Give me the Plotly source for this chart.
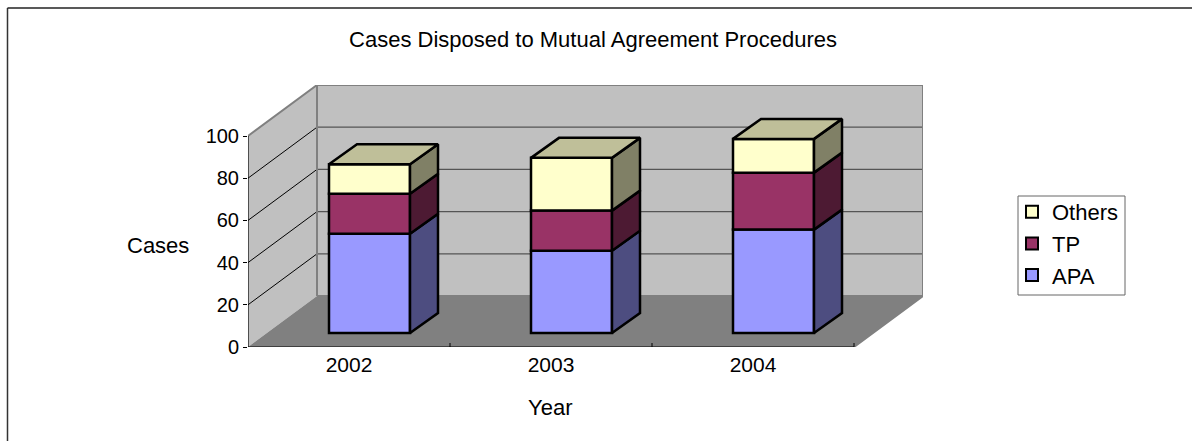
import plotly.graph_objects as go

# ---- data
years = ["2002", "2003", "2004"]
apa = [47, 39, 49]
tp = [19, 19, 27]
others = [14, 25, 16]
series = [("APA", apa, "#9999FF", "#4D4D80"),
          ("TP", tp, "#993366", "#4D1A33"),
          ("Others", others, "#FFFFCC", "#808066")]
top_colour = "#BFBF99"
y_ticks = [0, 20, 40, 60, 80, 100]

# ---- geometry of the fake 3-D box, in axis units
W, H = 1192, 441
PX_PER_CAT = 202.0
PX_PER_VAL = 2.11
X0, Y0 = 248.0, 347.0            # front-left floor corner, pixels
DX_WALL = 69 / PX_PER_CAT        # depth of box
DY_WALL = 51 / PX_PER_VAL
BAR_W = 81 / PX_PER_CAT
DX_FRONT = 20.5 / PX_PER_CAT     # bar front set back from box front
DY_FRONT = 14 / PX_PER_VAL
DX_BAR = 28 / PX_PER_CAT         # bar depth
DY_BAR = 20 / PX_PER_VAL
xmin, xmax = -0.5, 2.5 + DX_WALL
ymin, ymax = 0, 100 + DY_WALL

fig = go.Figure()


def poly(xs, ys, fill, line="rgba(0,0,0,0)", width=0, over=False):
    fig.add_trace(go.Scatter(x=xs + xs[:1], y=ys + ys[:1], mode="lines", fill="toself", fillcolor=fill,
                             line=dict(color=line, width=width), showlegend=False,
                             hoverinfo="skip", xaxis="x2" if over else "x",
                             yaxis="y2" if over else "y"))


def seg(xs, ys, color, width):
    fig.add_trace(go.Scatter(x=xs, y=ys, mode="lines", line=dict(color=color, width=width),
                             showlegend=False, hoverinfo="skip"))


# side wall, back wall, floor
poly([-0.5, -0.5 + DX_WALL, -0.5 + DX_WALL, -0.5], [0, DY_WALL, 100 + DY_WALL, 100], "#C0C0C0")
poly([-0.5 + DX_WALL, 2.5 + DX_WALL, 2.5 + DX_WALL, -0.5 + DX_WALL],
     [DY_WALL, DY_WALL, 100 + DY_WALL, 100 + DY_WALL], "#C0C0C0")
poly([-0.5, 2.5, 2.5 + DX_WALL, -0.5 + DX_WALL], [0, 0, DY_WALL, DY_WALL], "#808080")
# gridlines
for t in y_ticks[1:-1]:
    seg([-0.5, -0.5 + DX_WALL], [t, t + DY_WALL], "#000000", 1)
    seg([-0.5 + DX_WALL, 2.5 + DX_WALL], [t + DY_WALL, t + DY_WALL], "#555555", 1.2)
# wall borders
seg([-0.5, -0.5 + DX_WALL, 2.5 + DX_WALL, 2.5 + DX_WALL, 2.5],
    [100, 100 + DY_WALL, 100 + DY_WALL, DY_WALL, 0], "#808080", 2)
seg([-0.5 + DX_WALL, -0.5 + DX_WALL], [DY_WALL, 100 + DY_WALL], "#808080", 2)
seg([-0.5 + DX_WALL, 2.5 + DX_WALL], [DY_WALL, DY_WALL], "#808080", 2)
# axis lines and ticks
seg([-0.5, -0.5], [0, 100], "#000000", 1.2)
seg([-0.5, 2.5], [0, 0], "#000000", 1.2)
for b in [0.5, 1.5, 2.5]:
    seg([b, b], [0, 4 / PX_PER_VAL], "#000000", 1)

# bars: front faces through the library, side and top faces from the same values
base = [DY_FRONT] * len(years)
for name, vals, front, side in series:
    fig.add_trace(go.Bar(x=[i + DX_FRONT for i in range(len(years))], y=vals, base=base,
                         width=BAR_W, name=name, xaxis="x2", yaxis="y2",
                         marker=dict(color=front, line=dict(color="#000000", width=2.5)),
                         showlegend=False))
    for i, v in enumerate(vals):
        xr = i + DX_FRONT + BAR_W / 2
        poly([xr, xr + DX_BAR, xr + DX_BAR, xr],
             [base[i], base[i] + DY_BAR, base[i] + v + DY_BAR, base[i] + v], side,
             "#000000", 2.5, over=True)
    base = [b + v for b, v in zip(base, vals)]
for i, top in enumerate(base):
    xl = i + DX_FRONT - BAR_W / 2
    xr = xl + BAR_W
    poly([xl, xr, xr + DX_BAR, xl + DX_BAR], [top, top, top + DY_BAR, top + DY_BAR],
         top_colour, "#000000", 2.5, over=True)

# legend entries as real plotly legend
for name, vals, front, side in reversed(series):
    fig.add_trace(go.Bar(x=[None], y=[None], name=name, showlegend=True, legendgroup=name,
                         xaxis="x2", yaxis="y2",
                         marker=dict(color=front, line=dict(color="#000000", width=2))))

font = "Liberation Sans, Arial, sans-serif"
x_domain = [X0 / W, (X0 + PX_PER_CAT * (xmax - xmin)) / W]
y_domain = [1 - Y0 / H, 1 - (Y0 - PX_PER_VAL * ymax) / H]
fig.update_layout(
    width=W, height=H, margin=dict(l=0, r=0, t=0, b=0),
    barmode="overlay", paper_bgcolor="#FFFFFF", plot_bgcolor="rgba(0,0,0,0)",
    font=dict(family=font, size=22, color="#000000"),
    title=dict(text="Cases Disposed to Mutual Agreement Procedures", x=593 / W, xanchor="center",
               y=1 - 39 / H, yanchor="middle", font=dict(size=22)),
    xaxis=dict(domain=x_domain, range=[xmin, xmax], automargin=False,
               tickmode="array", tickvals=[0, 1, 2], ticktext=years, showgrid=False,
               zeroline=False, showline=False, ticks="", ticklabelstandoff=3,
               tickfont=dict(size=21)),
    yaxis=dict(domain=y_domain, range=[ymin, ymax], automargin=False,
               tickmode="array", tickvals=y_ticks, showgrid=False, zeroline=False,
               showline=False, ticks="outside", ticklen=4, tickcolor="#000000",
               tickfont=dict(size=20)),
    xaxis2=dict(domain=x_domain, range=[xmin, xmax], overlaying="x", visible=False, automargin=False),
    yaxis2=dict(domain=y_domain, range=[ymin, ymax], overlaying="y", visible=False, automargin=False),
    legend=dict(x=1012 / W, y=1 - 191 / H, xanchor="left", yanchor="top",
                bgcolor="rgba(0,0,0,0)", borderwidth=0, traceorder="normal",
                tracegroupgap=5.5, font=dict(size=22), itemwidth=30),
    annotations=[dict(text="Cases", x=158 / W, y=1 - 246 / H, xref="paper", yref="paper",
                      xanchor="center", yanchor="middle", showarrow=False, font=dict(size=22)),
                 dict(text="Year", x=550 / W, y=1 - 407 / H, xref="paper", yref="paper",
                      xanchor="center", yanchor="middle", showarrow=False, font=dict(size=22))],
    shapes=[dict(type="line", xref="paper", yref="paper", x0=7.5 / W, x1=7.5 / W, y0=0, y1=1 - 8 / H,
                 line=dict(color="#333333", width=1.5)),
            dict(type="line", xref="paper", yref="paper", x0=7.5 / W, x1=1, y0=1 - 8 / H, y1=1 - 8 / H,
                 line=dict(color="#222222", width=1.5)),
            dict(type="rect", xref="paper", yref="paper", x0=1018 / W, x1=1125 / W,
                 y0=1 - 295 / H, y1=1 - 196 / H, layer="below", fillcolor="#FFFFFF",
                 line=dict(color="#666666", width=1))],
)
fig.write_html("out.html", post_script="document.body.style.margin='0';", config=dict(displayModeBar=False))
